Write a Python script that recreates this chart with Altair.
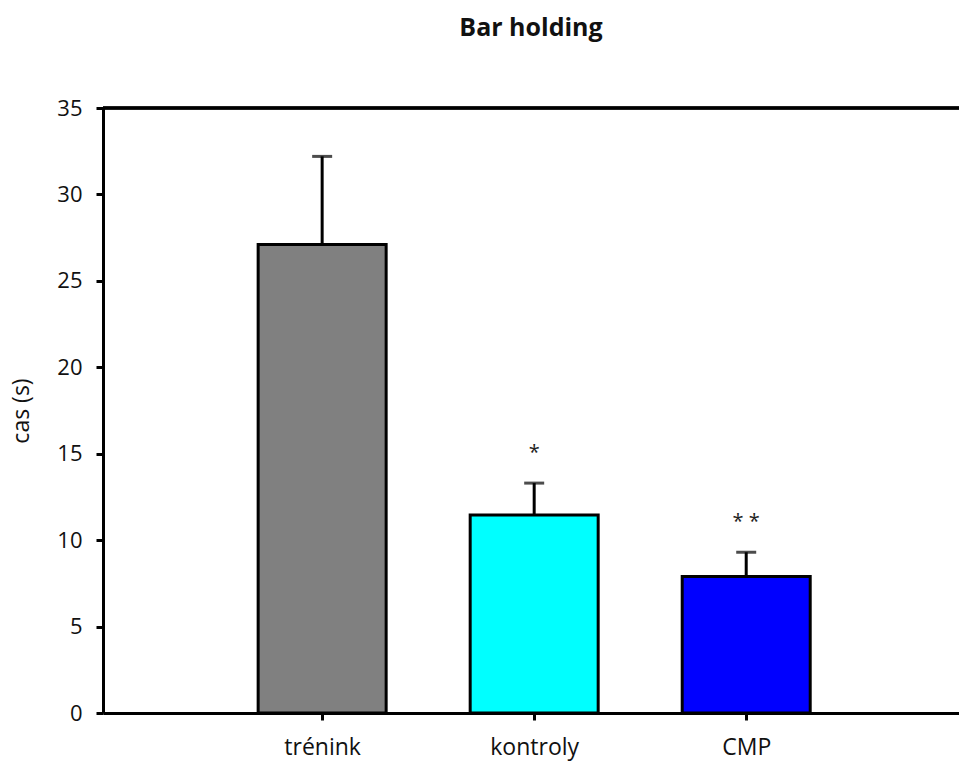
import altair as alt
import pandas as pd

# Group means and their error (upper whisker length), time in seconds
groups = ["trénink", "kontroly", "CMP"]
means = [27.1, 11.45, 7.9]
errors = [5.1, 1.85, 1.4]
stars = ["", "*", "* *"]
colors = ["#808080", "#00FFFF", "#0000FF"]

positions = list(range(1, len(groups) + 1))
df = pd.DataFrame({
    "pos": positions,
    "group": groups,
    "mean": means,
    "err": errors,
    "star": stars,
})

W, H = 856, 605
FONT = "Open Sans"

label_expr = " : ".join(
    f"datum.value == {p} ? '{g}'" for p, g in zip(positions, groups)
) + " : ''"

x = alt.X(
    "pos:Q",
    scale=alt.Scale(domain=[-0.01, 3.98], nice=False, zero=False),
    axis=alt.Axis(
        values=positions, labelExpr=label_expr, title=None, grid=False,
        tickSize=7, tickWidth=3, tickColor="black",
        domainColor="black", domainWidth=3,
        labelFont=FONT, labelFontSize=23, labelColor="#111111",
        labelPadding=16, labelFlush=False,
    ),
)
y_scale = alt.Scale(domain=[0, 35], nice=False)

base = alt.Chart(df)

bars = base.mark_bar(size=128, stroke="black", strokeWidth=3).encode(
    x=x,
    y=alt.Y(
        "mean:Q", scale=y_scale,
        axis=alt.Axis(
            values=[0, 5, 10, 15, 20, 25, 30, 35], grid=False,
            title="cas (s)", titleFont=FONT, titleFontSize=23,
            titleFontWeight="normal", titleColor="#111111",
            titleAngle=-90, titleX=-74.5, titleY=H / 2,
            titleAlign="center", titleBaseline="alphabetic",
            tickSize=7, tickWidth=3, tickColor="black",
            domainColor="black", domainWidth=3,
            labelFont=FONT, labelFontSize=22, labelColor="#111111",
            labelPadding=14,
        ),
    ),
    color=alt.Color("group:N", scale=alt.Scale(domain=groups, range=colors), legend=None),
)

with_upper = base.transform_calculate(upper="datum.mean + datum.err")

whisker = with_upper.mark_rule(color="black", strokeWidth=3).encode(
    x="pos:Q",
    y=alt.Y("mean:Q", scale=y_scale),
    y2="upper:Q",
)

cap = with_upper.mark_tick(orient="horizontal", size=20, thickness=3, color="black").encode(
    x="pos:Q",
    y=alt.Y("upper:Q", scale=y_scale),
)

sig = with_upper.transform_calculate(star_y="datum.upper + 2").mark_text(
    font=FONT, fontSize=20, color="#222222", baseline="middle", dy=4
).encode(
    x="pos:Q",
    y=alt.Y("star_y:Q", scale=y_scale),
    text="star:N",
)

# top edge of the frame (the right side runs past the visible area)
top_edge = alt.Chart(df).mark_rule(color="black", strokeWidth=3).encode(
    x=alt.value(0), x2=alt.value(W), y=alt.value(0)
)

chart = (
    alt.layer(bars, whisker, cap, sig, top_edge)
    .properties(
        width=W,
        height=H,
        autosize=alt.AutoSizeParams(type="none"),
        padding={"left": 103, "top": 108, "right": 0, "bottom": 49},
        title=alt.TitleParams(
            "Bar holding", font=FONT, fontSize=25, fontWeight="bold",
            color="#111111", anchor="middle", frame="group",
            baseline="alphabetic", offset=36,
        ),
    )
    .configure_view(stroke=None)
    .configure(background="white")
)

chart.save("out.html", embed_options={"renderer": "svg", "actions": False})
